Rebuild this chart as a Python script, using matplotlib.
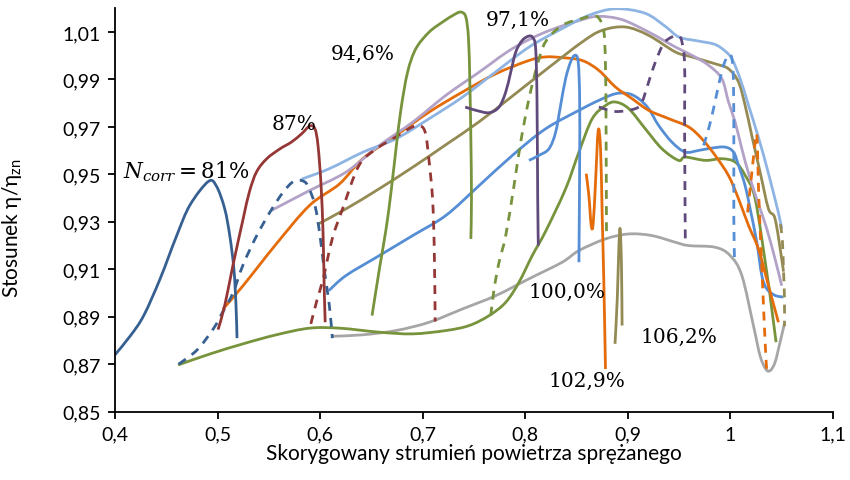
import matplotlib
matplotlib.use("Agg")
import matplotlib.pyplot as plt
import numpy as np
from matplotlib.path import Path
from matplotlib.patches import PathPatch

plt.rcParams['font.family'] = ['Lato', 'DejaVu Sans']
plt.rcParams['mathtext.fontset'] = 'dejavuserif'

# linie stałej prędkości obrotowej (ciągła i przerywana)
n81_x = [0.400, 0.415, 0.428, 0.444, 0.460, 0.473, 0.491, 0.499, 0.507, 0.512, 0.516, 0.518, 0.519]
n81_y = [0.874, 0.882, 0.8905, 0.906, 0.924, 0.937, 0.947, 0.945, 0.9355, 0.924, 0.910, 0.895, 0.881]
n81d_x = [0.462, 0.480, 0.496, 0.505, 0.515, 0.525, 0.538, 0.551, 0.564, 0.574, 0.582, 0.588, 0.595, 0.600, 0.604, 0.609, 0.612]
n81d_y = [0.870, 0.876, 0.885, 0.892, 0.900, 0.912, 0.924, 0.934, 0.9425, 0.947, 0.9474, 0.9453, 0.937, 0.924, 0.910, 0.895, 0.881]

n87_x = [0.5005, 0.507, 0.515, 0.525, 0.531, 0.538, 0.548, 0.561, 0.572, 0.582, 0.590, 0.595, 0.598, 0.601, 0.603, 0.604, 0.605]
n87_y = [0.8846, 0.8947, 0.9116, 0.9313, 0.9425, 0.951, 0.9566, 0.9608, 0.9636, 0.9671, 0.9704, 0.9692, 0.9622, 0.9453, 0.9242, 0.9031, 0.8877]
n87d_x = [0.591, 0.597, 0.603, 0.612, 0.622, 0.638, 0.655, 0.671, 0.690, 0.698, 0.703, 0.7065, 0.7097, 0.7114, 0.7123]
n87d_y = [0.887, 0.897, 0.906, 0.923, 0.9355, 0.9538, 0.9608, 0.965, 0.970, 0.9705, 0.967, 0.955, 0.940, 0.9186, 0.888]

n946_x = [0.6507, 0.6579, 0.6644, 0.6692, 0.6741, 0.679, 0.6854, 0.6935, 0.7065, 0.7195, 0.7308, 0.7374, 0.7422, 0.7448, 0.7461, 0.7471, 0.7477, 0.7471]
n946_y = [0.8905, 0.9102, 0.927, 0.9425, 0.9608, 0.9777, 0.9931, 1.003, 1.010, 1.0142, 1.0173, 1.0184, 1.0163, 1.0072, 0.9889, 0.965, 0.9397, 0.9228]
n946d_x = [0.7665, 0.7698, 0.7746, 0.7811, 0.7892, 0.7957, 0.8038, 0.8119, 0.820, 0.8362, 0.8557, 0.8657, 0.872, 0.8768, 0.8784, 0.879, 0.8794]
n946d_y = [0.8905, 0.9018, 0.913, 0.9242, 0.9453, 0.9636, 0.9819, 0.996, 1.0059, 1.0128, 1.0157, 1.0169, 1.0158, 1.0103, 0.996, 0.968, 0.9228]

n971_x = [0.7416, 0.752, 0.7649, 0.7746, 0.7811, 0.786, 0.7909, 0.7973, 0.8038, 0.8077, 0.8103, 0.8116, 0.8123, 0.8129]
n971_y = [0.9784, 0.977, 0.976, 0.9784, 0.9847, 0.9931, 1.0016, 1.0065, 1.0083, 1.0075, 1.003, 0.9819, 0.9397, 0.920]
n971d_x = [0.872, 0.8882, 0.9076, 0.914, 0.9205, 0.9271, 0.9351, 0.9432, 0.9497, 0.953, 0.9556, 0.9556, 0.9563]
n971d_y = [0.9784, 0.9765, 0.9777, 0.9805, 0.9889, 0.9974, 1.0051, 1.0079, 1.0083, 1.0058, 0.996, 0.9678, 0.920]

n100_x = [0.8038, 0.8135, 0.8233, 0.8298, 0.8346, 0.8395, 0.8444, 0.8486, 0.8518, 0.8532, 0.8532, 0.8525]
n100_y = [0.9559, 0.958, 0.9608, 0.9678, 0.979, 0.9903, 0.9974, 1.0002, 0.9974, 0.9819, 0.9538, 0.913]
n100d_x = [0.9741, 0.979, 0.9838, 0.9887, 0.9936, 0.9984, 1.0017, 1.0033, 1.0036, 1.0036, 1.0043]
n100d_y = [0.9622, 0.9692, 0.9777, 0.9875, 0.996, 1.0002, 0.9988, 0.9875, 0.9594, 0.9313, 0.913]

n1029_x = [0.8596, 0.8622, 0.8645, 0.8664, 0.8687, 0.8713, 0.8736, 0.8752, 0.8768, 0.8784]
n1029_y = [0.9503, 0.9411, 0.9284, 0.9292, 0.9468, 0.9685, 0.9608, 0.9327, 0.9046, 0.868]
n1029d_x = [1.017, 1.021, 1.024, 1.026, 1.027, 1.028, 1.031, 1.033, 1.035, 1.036]
n1029d_y = [0.934, 0.950, 0.962, 0.967, 0.955, 0.940, 0.910, 0.890, 0.872, 0.866]

n1062_x = [0.8877, 0.8899, 0.8914, 0.8927, 0.894, 0.8946]
n1062_y = [0.8786, 0.8975, 0.9186, 0.9271, 0.9116, 0.8863]
n1062d_x = [1.049, 1.051, 1.052, 1.053, 1.053]
n1062d_y = [0.929, 0.922, 0.910, 0.898, 0.886]

# linie łączące punkty o jednakowym położeniu na charakterystykach
pale_x = [0.582, 0.609, 0.642, 0.674, 0.7065, 0.739, 0.771, 0.804, 0.836, 0.862, 0.888, 0.917, 0.937, 0.950,
          0.969, 0.985, 0.995, 1.002, 1.010, 1.018, 1.028, 1.037, 1.047, 1.0503]
pale_y = [0.948, 0.9524, 0.9594, 0.965, 0.9735, 0.9826, 0.9931, 1.0037, 1.0114, 1.017, 1.0198, 1.0179, 1.0123, 1.0079,
          1.0062, 1.0048, 1.002, 0.9985, 0.990, 0.979, 0.965, 0.951, 0.934, 0.927]

lav_x = [0.5525, 0.5897, 0.6254, 0.6579, 0.6903, 0.7227, 0.7552, 0.7876, 0.820, 0.8557, 0.872, 0.8946, 0.9205,
         0.9465, 0.9627, 0.9789, 0.9919, 0.9984, 1.0049, 1.0114, 1.0195, 1.0292, 1.0357, 1.0438, 1.0503]
lav_y = [0.9348, 0.9432, 0.951, 0.9622, 0.972, 0.9833, 0.9931, 1.003, 1.010, 1.0152, 1.0166, 1.0152, 1.010,
         1.0037, 1.0002, 0.996, 0.9903, 0.9805, 0.972, 0.9608, 0.9482, 0.9355, 0.9271, 0.9144, 0.9031]

olive_x = [0.5978, 0.6254, 0.6579, 0.6903, 0.7227, 0.7552, 0.7876, 0.820, 0.8557, 0.8752, 0.8979, 0.9205,
           0.9465, 0.9627, 0.9854, 0.9984, 1.0082, 1.0146, 1.0211, 1.0292, 1.0374, 1.0438, 1.0503, 1.052]
olive_y = [0.929, 0.9355, 0.944, 0.953, 0.9625, 0.9722, 0.983, 0.994, 1.0058, 1.0107, 1.0121, 1.0086,
           1.0016, 0.9995, 0.9966, 0.9945, 0.9889, 0.9791, 0.9664, 0.951, 0.9355, 0.9313, 0.9144, 0.909]

orange_x = [0.5054, 0.5249, 0.5573, 0.5897, 0.619, 0.6416, 0.6741, 0.7065, 0.7389, 0.7714, 0.8038, 0.820, 0.8362,
            0.8557, 0.872, 0.8882, 0.9044, 0.9205, 0.940, 0.9595, 0.9724, 0.9854, 0.9984, 1.0082, 1.0179, 1.0276,
            1.0374, 1.0471]
orange_y = [0.8933, 0.9031, 0.9207, 0.9369, 0.946, 0.9566, 0.9664, 0.9763, 0.9847, 0.9924, 0.998, 0.9995, 0.9992,
            0.998, 0.9938, 0.9868, 0.9819, 0.977, 0.9735, 0.970, 0.965, 0.958, 0.9495, 0.9397, 0.9285, 0.9186,
            0.9031, 0.8877]

blue_x = [0.6085, 0.6254, 0.6579, 0.6903, 0.7227, 0.7552, 0.7876, 0.820, 0.8557, 0.872, 0.8882, 0.9011, 0.9108,
          0.9205, 0.9303, 0.9432, 0.9562, 0.9692, 0.9822, 0.9951, 1.0033, 1.0082, 1.0146, 1.0195, 1.026, 1.0309,
          1.0357, 1.0438, 1.0519]
blue_y = [0.901, 0.9074, 0.9158, 0.9242, 0.9327, 0.9453, 0.958, 0.9692, 0.9777, 0.9812, 0.984, 0.984, 0.9819,
          0.9777, 0.9706, 0.9636, 0.9594, 0.9601, 0.9611, 0.9615, 0.9594, 0.9538, 0.9453, 0.9355, 0.9214, 0.9074,
          0.9018, 0.899, 0.8983]

green_x = [0.4616, 0.4924, 0.5249, 0.5573, 0.5897, 0.619, 0.6579, 0.6903, 0.7227, 0.7454, 0.7649, 0.7811, 0.7941,
           0.807, 0.820, 0.8395, 0.8525, 0.8654, 0.8784, 0.8882, 0.9011, 0.9173, 0.9335, 0.9497, 0.9562, 0.9757,
           0.9919, 1.0049, 1.0146, 1.0244, 1.0357, 1.0406, 1.0448]
green_y = [0.8697, 0.8743, 0.8786, 0.8824, 0.8852, 0.8852, 0.8835, 0.8828, 0.8842, 0.8863, 0.8905, 0.8961, 0.9046,
           0.9158, 0.926, 0.9439, 0.9594, 0.9734, 0.979, 0.9805, 0.9777, 0.9692, 0.9608, 0.9559, 0.9573, 0.9559,
           0.9566, 0.9552, 0.9496, 0.9397, 0.9088, 0.8933, 0.8793]

gray_x = [0.6124, 0.6416, 0.6741, 0.7065, 0.7389, 0.7714, 0.8038, 0.8362, 0.8525, 0.8784, 0.9011, 0.9238, 0.9465,
          0.9595, 0.9854, 1.000, 1.0114, 1.0227, 1.0292, 1.0347, 1.039, 1.0438, 1.0487, 1.0529]
gray_y = [0.8818, 0.8824, 0.8842, 0.8877, 0.8933, 0.8989, 0.906, 0.913, 0.9179, 0.9228, 0.9249, 0.9242, 0.9214,
          0.920, 0.9193, 0.9158, 0.9074, 0.8863, 0.8736, 0.868, 0.8673, 0.8708, 0.8793, 0.887]

labels = ["$N_{corr}=81\\%$", "87%", "94,6%", "97,1%", "100,0%", "102,9%", "106,2%"]
label_x = [0.408, 0.5528, 0.6108, 0.7617, 0.8038, 0.8233, 0.9125]
label_y = [0.9515, 0.9713, 1.0009, 1.0152, 0.9009, 0.863, 0.8819]

c_dblue = "#376092"
c_red = "#953735"
c_green = "#77933C"
c_purple = "#604A7B"
c_blue = "#558ED5"
c_orange = "#E46C0A"
c_gray = "#A6A6A6"
c_olive = "#948A54"
c_pale = "#8EB4E3"
c_lav = "#B3A2C7"


def smooth_path(xs, ys):
    # wygładzona linia jak w Excelu: krzywe Béziera przez kolejne punkty
    pts = np.column_stack([xs, ys])
    n = len(pts)
    verts = [pts[0]]
    codes = [Path.MOVETO]
    for i in range(n - 1):
        p0 = pts[i - 1] if i > 0 else pts[i]
        p1 = pts[i]
        p2 = pts[i + 1]
        p3 = pts[i + 2] if i + 2 < n else pts[i + 1]
        verts += [p1 + (p2 - p0) / 6, p2 - (p3 - p1) / 6, p2]
        codes += [Path.CURVE4] * 3
    return Path(verts, codes)


def curve(ax, xs, ys, color, ls='-'):
    ax.add_patch(PathPatch(smooth_path(xs, ys), fill=False, edgecolor=color,
                           lw=2.0, linestyle=ls, joinstyle='round', capstyle='butt'))


fig = plt.figure(figsize=(8.5, 4.81), dpi=100)
ax = fig.add_axes([0.1353, 0.142, 0.8443, 0.8387])

dash = (0, (3.2, 2.6))

curve(ax, gray_x, gray_y, c_gray)
curve(ax, green_x, green_y, c_green)
curve(ax, blue_x, blue_y, c_blue)
curve(ax, orange_x, orange_y, c_orange)
curve(ax, olive_x, olive_y, c_olive)
curve(ax, lav_x, lav_y, c_lav)
curve(ax, pale_x, pale_y, c_pale)

for xs, ys, xd, yd, c in [(n81_x, n81_y, n81d_x, n81d_y, c_dblue),
                          (n87_x, n87_y, n87d_x, n87d_y, c_red),
                          (n946_x, n946_y, n946d_x, n946d_y, c_green),
                          (n971_x, n971_y, n971d_x, n971d_y, c_purple),
                          (n100_x, n100_y, n100d_x, n100d_y, c_blue),
                          (n1029_x, n1029_y, n1029d_x, n1029d_y, c_orange),
                          (n1062_x, n1062_y, n1062d_x, n1062d_y, c_olive)]:
    curve(ax, xs, ys, c)
    curve(ax, xd, yd, c, dash)

for i, (t, x, y) in enumerate(zip(labels, label_x, label_y)):
    ax.text(x, y, t, fontsize=15.5 if i == 0 else 14.5, family='DejaVu Serif', va='center', ha='left')

ax.set_xlim(0.4, 1.1)
ax.set_ylim(0.85, 1.02)
xt = [0.4, 0.5, 0.6, 0.7, 0.8, 0.9, 1.0, 1.1]
ax.set_xticks(xt)
ax.set_xticklabels(["0,4", "0,5", "0,6", "0,7", "0,8", "0,9", "1", "1,1"])
yt = [0.85, 0.87, 0.89, 0.91, 0.93, 0.95, 0.97, 0.99, 1.01]
ax.set_yticks(yt)
ax.set_yticklabels([f"{v:.2f}".replace(".", ",") for v in yt])
ax.tick_params(direction='out', length=5, width=1.3, labelsize=14, pad=5)

ax.spines['top'].set_visible(False)
ax.spines['right'].set_visible(False)
for s in ['left', 'bottom']:
    ax.spines[s].set_linewidth(1.3)

ax.set_xlabel("Skorygowany strumień powietrza sprężanego", fontsize=15, labelpad=0)
ax.set_ylabel("Stosunek η/η$_{\\mathregular{zn}}$", fontsize=15)
ax.yaxis.set_label_coords(-0.127, 0.458)

fig.savefig("out.png", dpi=100)
